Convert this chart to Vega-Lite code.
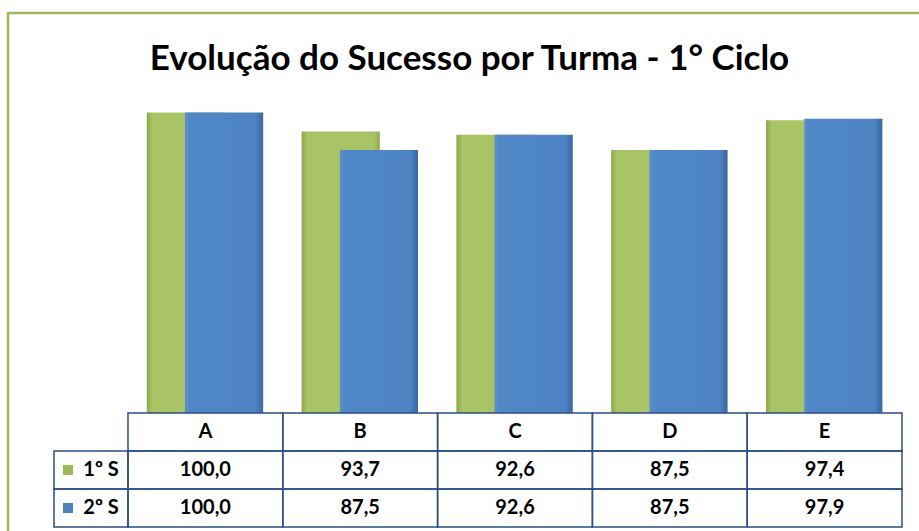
{
  "$schema": "https://vega.github.io/schema/vega-lite/v6.json",
  "width": 915,
  "height": 522,
  "autosize": {"type": "none"},
  "padding": {"left": 8, "top": 13, "right": 0, "bottom": 0},
  "background": "white",
  "config": {
    "view": {"stroke": "#9bbb59", "strokeWidth": 2.5},
    "locale": {"number": {"decimal": ",", "thousands": ".", "grouping": [3], "currency": ["", " €"]}},
    "text": {"font": "Lato", "fontWeight": "bold", "fontSize": 20, "color": "black"}
  },
  "title": {"text": "Evolução do Sucesso por Turma - 1° Ciclo", "font": "Lato", "fontSize": 35, "fontWeight": "bold", "color": "black", "offset": -64, "anchor": "middle", "dx": 4},
  "data": {"values": [
    {"turma": "A", "sem": "1º S", "v": 100.0},
    {"turma": "B", "sem": "1º S", "v": 93.7},
    {"turma": "C", "sem": "1º S", "v": 92.6},
    {"turma": "D", "sem": "1º S", "v": 87.5},
    {"turma": "E", "sem": "1º S", "v": 97.4},
    {"turma": "A", "sem": "2º S", "v": 100.0},
    {"turma": "B", "sem": "2º S", "v": 87.5},
    {"turma": "C", "sem": "2º S", "v": 92.6},
    {"turma": "D", "sem": "2º S", "v": 87.5},
    {"turma": "E", "sem": "2º S", "v": 97.9}
  ]},
  "resolve": {"scale": {"x": "independent", "y": "independent", "color": "independent"}},
  "layer": [
    {
      "transform": [{"filter": "datum.sem === '1º S'"}],
      "mark": {"type": "bar", "width": {"band": 0.505}, "xOffset": -19.5,
        "color": {"gradient": "linear", "x1": 0, "x2": 1, "y1": 0, "y2": 0, "stops": [
          {"offset": 0, "color": "#8aa84a"}, {"offset": 0.07, "color": "#a8c464"}, {"offset": 0.93, "color": "#a8c464"}, {"offset": 1, "color": "#8aa84a"}]}},
      "encoding": {
        "x": {"field": "turma", "type": "nominal", "axis": null, "scale": {"type": "band", "domain": ["A","B","C","D","E"], "range": [120, 894], "paddingInner": 0, "paddingOuter": 0}},
        "y": {"field": "v", "type": "quantitative", "axis": null, "scale": {"domain": [-40.6, 133.11], "nice": false, "zero": false}}
      }
    },
    {
      "transform": [{"filter": "datum.sem === '2º S'"}],
      "mark": {"type": "bar", "width": {"band": 0.505}, "xOffset": 18.7,
        "color": {"gradient": "linear", "x1": 0, "x2": 1, "y1": 0, "y2": 0, "stops": [
          {"offset": 0, "color": "#5a90cf"}, {"offset": 0.06, "color": "#5088c7"}, {"offset": 0.9, "color": "#4d83c3"}, {"offset": 1, "color": "#3a669e"}]}},
      "encoding": {
        "x": {"field": "turma", "type": "nominal", "axis": null, "scale": {"type": "band", "domain": ["A","B","C","D","E"], "range": [120, 894], "paddingInner": 0, "paddingOuter": 0}},
        "y": {"field": "v", "type": "quantitative", "axis": null, "scale": {"domain": [-40.6, 133.11], "nice": false, "zero": false}}
      }
    },
    {
      "transform": [{"filter": "datum.sem === '1º S'"}],
      "mark": {"type": "rect", "fill": "white", "fillOpacity": 0, "stroke": "#2b4f82", "strokeWidth": 1.5},
      "encoding": {
        "x": {"field": "turma", "type": "nominal", "axis": null, "scale": {"type": "band", "domain": ["A","B","C","D","E"], "range": [120, 894], "paddingInner": 0, "paddingOuter": 0}},
        "y": {"datum": "hdr", "type": "nominal", "axis": null, "scale": {"type": "band", "domain": ["hdr","1º S","2º S"], "range": [400, 514], "paddingInner": 0, "paddingOuter": 0}}
      }
    },
    {
      "mark": {"type": "rect", "fill": "white", "fillOpacity": 0, "stroke": "#2b4f82", "strokeWidth": 1.5},
      "encoding": {
        "x": {"field": "turma", "type": "nominal", "axis": null, "scale": {"type": "band", "domain": ["A","B","C","D","E"], "range": [120, 894], "paddingInner": 0, "paddingOuter": 0}},
        "y": {"field": "sem", "type": "nominal", "axis": null, "scale": {"type": "band", "domain": ["hdr","1º S","2º S"], "range": [400, 514], "paddingInner": 0, "paddingOuter": 0}}
      }
    },
    {
      "transform": [{"filter": "datum.turma === 'A'"}],
      "mark": {"type": "rect", "fill": "white", "fillOpacity": 0, "stroke": "#2b4f82", "strokeWidth": 1.5},
      "encoding": {
        "x": {"datum": "lbl", "type": "nominal", "axis": null, "scale": {"type": "band", "domain": ["lbl"], "range": [46, 120], "paddingInner": 0, "paddingOuter": 0}},
        "y": {"field": "sem", "type": "nominal", "axis": null, "scale": {"type": "band", "domain": ["hdr","1º S","2º S"], "range": [400, 514], "paddingInner": 0, "paddingOuter": 0}}
      }
    },
    {
      "transform": [{"filter": "datum.sem === '1º S'"}],
      "mark": {"type": "text"},
      "encoding": {
        "x": {"field": "turma", "type": "nominal", "axis": null, "scale": {"type": "band", "domain": ["A","B","C","D","E"], "range": [120, 894], "paddingInner": 0, "paddingOuter": 0}},
        "y": {"datum": "hdr", "type": "nominal", "axis": null, "scale": {"type": "band", "domain": ["hdr","1º S","2º S"], "range": [400, 514], "paddingInner": 0, "paddingOuter": 0}},
        "text": {"field": "turma", "type": "nominal"}
      }
    },
    {
      "mark": {"type": "text"},
      "encoding": {
        "x": {"field": "turma", "type": "nominal", "axis": null, "scale": {"type": "band", "domain": ["A","B","C","D","E"], "range": [120, 894], "paddingInner": 0, "paddingOuter": 0}},
        "y": {"field": "sem", "type": "nominal", "axis": null, "scale": {"type": "band", "domain": ["hdr","1º S","2º S"], "range": [400, 514], "paddingInner": 0, "paddingOuter": 0}},
        "text": {"field": "v", "type": "quantitative", "format": ".1f"}
      }
    },
    {
      "transform": [{"filter": "datum.turma === 'A'"}],
      "mark": {"type": "text", "dx": 10},
      "encoding": {
        "x": {"datum": "lbl", "type": "nominal", "axis": null, "scale": {"type": "band", "domain": ["lbl"], "range": [46, 120], "paddingInner": 0, "paddingOuter": 0}},
        "y": {"field": "sem", "type": "nominal", "axis": null, "scale": {"type": "band", "domain": ["hdr","1º S","2º S"], "range": [400, 514], "paddingInner": 0, "paddingOuter": 0}},
        "text": {"field": "sem", "type": "nominal"}
      }
    },
    {
      "transform": [{"filter": "datum.turma === 'A'"}],
      "mark": {"type": "point", "shape": "square", "filled": true, "size": 100, "opacity": 1, "xOffset": -23},
      "encoding": {
        "x": {"datum": "lbl", "type": "nominal", "axis": null, "scale": {"type": "band", "domain": ["lbl"], "range": [46, 120], "paddingInner": 0, "paddingOuter": 0}},
        "y": {"field": "sem", "type": "nominal", "axis": null, "scale": {"type": "band", "domain": ["hdr","1º S","2º S"], "range": [400, 514], "paddingInner": 0, "paddingOuter": 0}},
        "color": {"field": "sem", "type": "nominal", "legend": null, "scale": {"domain": ["1º S","2º S"], "range": ["#9bbb59","#4f81bd"]}}
      }
    }
  ]
}
